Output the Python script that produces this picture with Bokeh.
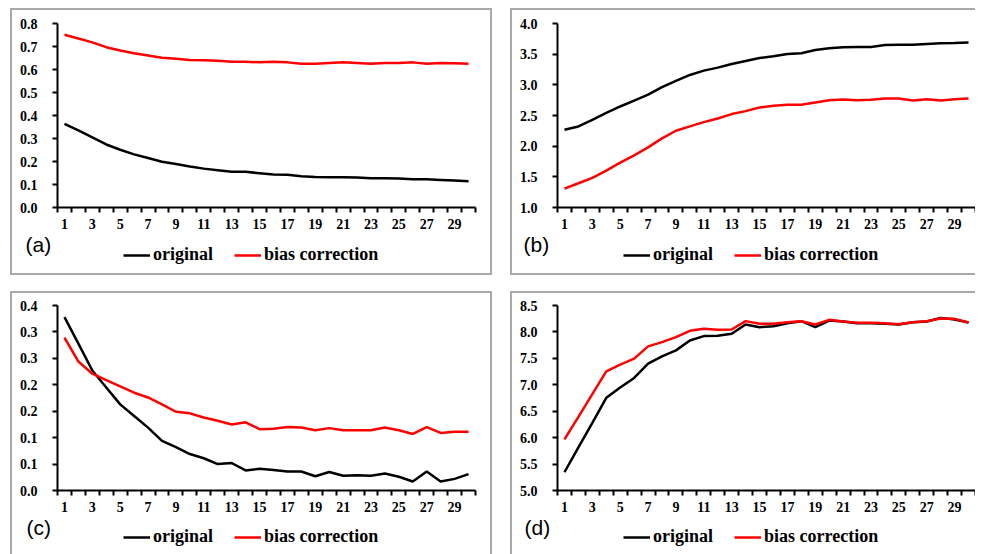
from bokeh.plotting import figure
from bokeh.models import Range1d, FixedTicker, Legend, LegendItem, Label, Spacer
from bokeh.layouts import row, column
from bokeh.embed import file_html
from bokeh.resources import INLINE

# ---------------- data ----------------
lead = list(range(1, 31))
x_label_values = list(range(1, 30, 2))

a_original = [0.364, 0.335, 0.305, 0.274, 0.251, 0.231, 0.215, 0.199, 0.189, 0.178,
              0.169, 0.162, 0.155, 0.155, 0.149, 0.143, 0.142, 0.136, 0.133, 0.131,
              0.131, 0.130, 0.127, 0.127, 0.126, 0.123, 0.123, 0.120, 0.117, 0.114]
a_bias = [0.751, 0.735, 0.718, 0.697, 0.683, 0.671, 0.661, 0.651, 0.647, 0.641,
          0.640, 0.638, 0.634, 0.634, 0.631, 0.634, 0.631, 0.625, 0.625, 0.628,
          0.631, 0.628, 0.625, 0.628, 0.628, 0.631, 0.625, 0.628, 0.627, 0.625]
a_ticks = [0.0, 0.1, 0.2, 0.3, 0.4, 0.5, 0.6, 0.7, 0.8]
a_tick_labels = ["0.0", "0.1", "0.2", "0.3", "0.4", "0.5", "0.6", "0.7", "0.8"]

b_original = [2.268, 2.322, 2.430, 2.544, 2.647, 2.744, 2.842, 2.961, 3.064, 3.161,
              3.232, 3.281, 3.340, 3.389, 3.438, 3.465, 3.503, 3.514, 3.568, 3.595,
              3.611, 3.616, 3.616, 3.649, 3.654, 3.654, 3.665, 3.676, 3.681, 3.692]
b_bias = [1.309, 1.395, 1.482, 1.601, 1.731, 1.850, 1.980, 2.127, 2.251, 2.322,
          2.392, 2.452, 2.523, 2.571, 2.631, 2.658, 2.674, 2.674, 2.712, 2.750,
          2.761, 2.750, 2.755, 2.777, 2.777, 2.744, 2.766, 2.744, 2.766, 2.777]
b_ticks = [1.0, 1.5, 2.0, 2.5, 3.0, 3.5, 4.0]
b_tick_labels = ["1.0", "1.5", "2.0", "2.5", "3.0", "3.5", "4.0"]

c_original = [0.328, 0.278, 0.227, 0.195, 0.163, 0.141, 0.119, 0.094, 0.082, 0.069,
              0.061, 0.050, 0.052, 0.038, 0.041, 0.039, 0.036, 0.036, 0.027, 0.035,
              0.028, 0.029, 0.028, 0.032, 0.026, 0.017, 0.036, 0.017, 0.022, 0.031]
c_bias = [0.289, 0.244, 0.221, 0.209, 0.197, 0.185, 0.176, 0.163, 0.149, 0.146,
          0.138, 0.132, 0.125, 0.129, 0.116, 0.117, 0.120, 0.119, 0.114, 0.118,
          0.114, 0.114, 0.114, 0.119, 0.114, 0.107, 0.120, 0.109, 0.111, 0.111]
c_ticks = [0.0, 0.05, 0.1, 0.15, 0.2, 0.25, 0.3, 0.35]
c_tick_labels = ["0.0", "0.1", "0.1", "0.2", "0.2", "0.3", "0.3", "0.4"]

d_original = [5.345, 5.817, 6.281, 6.753, 6.947, 7.129, 7.400, 7.538, 7.651, 7.839,
              7.921, 7.927, 7.965, 8.141, 8.090, 8.109, 8.166, 8.203, 8.090, 8.216,
              8.197, 8.166, 8.166, 8.153, 8.141, 8.184, 8.197, 8.266, 8.235, 8.178]
d_bias = [5.967, 6.394, 6.822, 7.255, 7.381, 7.494, 7.726, 7.808, 7.902, 8.021,
          8.059, 8.040, 8.046, 8.204, 8.153, 8.153, 8.184, 8.203, 8.141, 8.229,
          8.197, 8.172, 8.172, 8.166, 8.147, 8.184, 8.203, 8.254, 8.247, 8.178]
d_ticks = [5.0, 5.5, 6.0, 6.5, 7.0, 7.5, 8.0, 8.5]
d_tick_labels = ["5.0", "5.5", "6.0", "6.5", "7.0", "7.5", "8.0", "8.5"]

series_names = ["original", "bias correction"]
series_colors = ["#000000", "#ff0000"]

SERIF = "Liberation Serif"
BORDER = "#a9a9a9"


def shadow(sides):
    s = []
    if "l" in sides:
        s.append(f"inset 2px 0 0 0 {BORDER}")
    if "t" in sides:
        s.append(f"inset 0 2px 0 0 {BORDER}")
    if "r" in sides:
        s.append(f"inset -2px 0 0 0 {BORDER}")
    if "b" in sides:
        s.append(f"inset 0 -2px 0 0 {BORDER}")
    return {"box-shadow": ", ".join(s) if s else "none"}


def make_chart(orig, bias, yticks, ylabels, width, height, top, bottom, right, sides):
    p = figure(width=width, height=height, output_backend="svg",
               toolbar_location=None, frame_align=False,
               x_range=Range1d(0.5, len(lead) + 0.5),
               y_range=Range1d(yticks[0], yticks[-1]),
               min_border_left=47, min_border_right=right,
               min_border_top=top, min_border_bottom=bottom,
               border_fill_color=None, background_fill_color="white",
               outline_line_color=None, styles=shadow(sides))
    p.xgrid.visible = False
    p.ygrid.visible = False

    p.line(lead, orig, line_color=series_colors[0], line_width=2.5)
    p.line(lead, bias, line_color=series_colors[1], line_width=2.5)

    xa = p.xaxis[0]
    xa.ticker = FixedTicker(ticks=x_label_values,
                            minor_ticks=[i - 0.5 for i in lead] + [lead[-1] + 0.5])
    xa.major_label_overrides = {v: str(v) for v in x_label_values}
    xa.major_tick_out = 0
    xa.major_tick_in = 0
    xa.minor_tick_out = 5
    xa.minor_tick_in = 0
    xa.minor_tick_line_width = 2
    xa.minor_tick_line_color = "black"
    xa.axis_line_width = 2
    xa.major_label_standoff = 6
    xa.major_label_text_font = SERIF
    xa.major_label_text_font_style = "bold"
    xa.major_label_text_font_size = "14px"
    xa.major_label_text_color = "black"

    ya = p.yaxis[0]
    ya.ticker = FixedTicker(ticks=yticks, minor_ticks=[])
    ya.major_label_overrides = dict(zip(yticks, ylabels))
    ya.major_tick_out = 5
    ya.major_tick_in = 0
    ya.major_tick_line_width = 2
    ya.axis_line_width = 2
    ya.major_label_standoff = 15
    ya.major_label_text_font = SERIF
    ya.major_label_text_font_style = "bold"
    ya.major_label_text_font_size = "14px"
    ya.major_label_text_color = "black"
    return p


def make_key(tag, orig, bias, width, height, tag_x, tag_y, leg_y, sides):
    # key strip: the series are plotted outside its (empty) visible range so
    # only the legend samples and the panel tag show
    k = figure(width=width, height=height, output_backend="svg",
               toolbar_location=None, frame_align=False,
               x_range=Range1d(-2, -1), y_range=Range1d(-2, -1),
               x_axis_type=None, y_axis_type=None,
               min_border_left=0, min_border_right=0,
               min_border_top=0, min_border_bottom=0,
               border_fill_color=None, background_fill_color=None,
               outline_line_color=None, styles=shadow(sides))
    k.xgrid.visible = False
    k.ygrid.visible = False
    k1 = k.line(lead, orig, line_color=series_colors[0], line_width=2.5)
    k2 = k.line(lead, bias, line_color=series_colors[1], line_width=2.5)
    legend = Legend(items=[LegendItem(label=series_names[0], renderers=[k1]),
                           LegendItem(label=series_names[1], renderers=[k2])],
                    orientation="horizontal", location=(113, leg_y),
                    padding=0, margin=0, spacing=21,
                    glyph_width=27, glyph_height=18, label_standoff=3,
                    label_height=18,
                    label_text_font=SERIF, label_text_font_style="bold",
                    label_text_font_size="18px", label_text_color="black",
                    border_line_color=None, background_fill_alpha=0)
    k.add_layout(legend, "center")
    k.add_layout(Label(x=tag_x, y=tag_y, x_units="screen", y_units="screen",
                       text=tag, text_font="Liberation Sans", text_font_size="21px",
                       text_baseline="middle", text_align="left",
                       text_color="black"))
    return k


fa = make_chart(a_original, a_bias, a_ticks, a_tick_labels, 482, 223, 15, 23, 17, "ltr")
ka = make_key("(a)", a_original, a_bias, 482, 44, 15, 31, 10, "lrb")
fb = make_chart(b_original, b_bias, b_ticks, b_tick_labels, 465, 223, 15, 23, 0, "lt")
kb = make_key("(b)", b_original, b_bias, 465, 44, 13, 31, 10, "lb")
fc = make_chart(c_original, c_bias, c_ticks, c_tick_labels, 482, 223, 14, 23, 17, "ltr")
kc = make_key("(c)", c_original, c_bias, 482, 40, 16, 27, 7, "lr")
fd = make_chart(d_original, d_bias, d_ticks, d_tick_labels, 465, 223, 14, 23, 0, "lt")
kd = make_key("(d)", d_original, d_bias, 465, 40, 14, 27, 7, "l")

layout = column(
    Spacer(width=10, height=8),
    row(Spacer(width=10, height=267), column(fa, ka),
        Spacer(width=18, height=267), column(fb, kb)),
    Spacer(width=10, height=16),
    row(Spacer(width=10, height=263), column(fc, kc),
        Spacer(width=18, height=263), column(fd, kd)),
)

open("out.html", "w").write(file_html(layout, INLINE))
